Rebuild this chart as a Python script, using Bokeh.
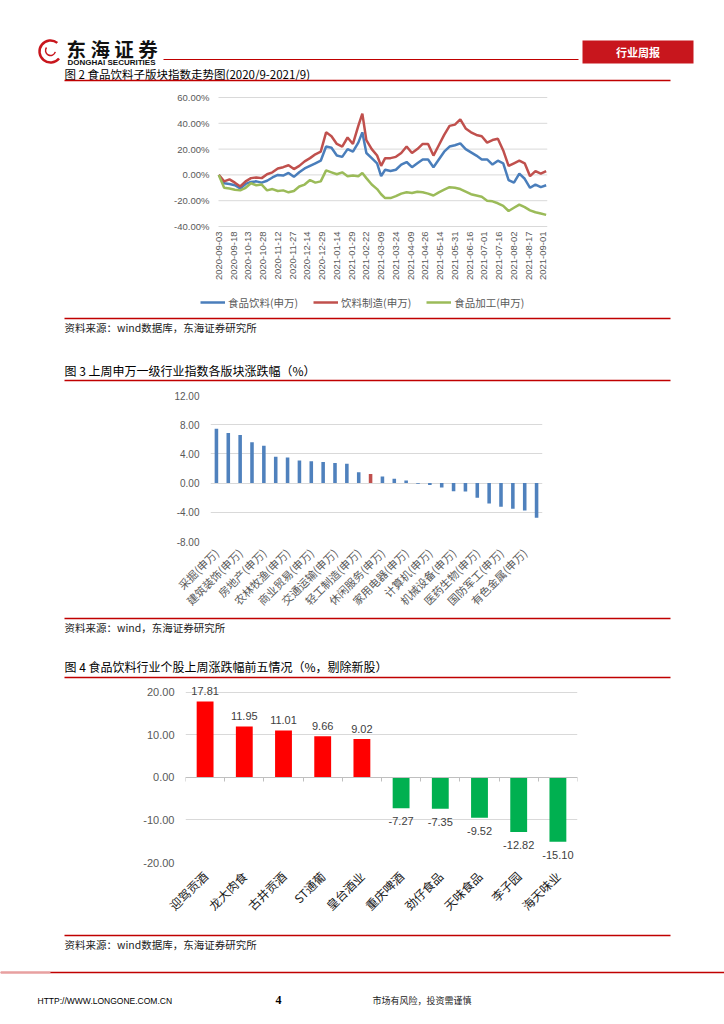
import math
from bokeh.plotting import figure
from bokeh.layouts import column
from bokeh.models import (Range1d, FixedTicker, Legend, LegendItem, LinearAxis,
                          ColumnDataSource, PrintfTickFormatter)
from bokeh.core.properties import value
from bokeh.embed import file_html
from bokeh.resources import INLINE

CJK = "Noto Sans CJK SC"
SANS = "Liberation Sans"
RED_LINE = "#c00000"
GRID = "#d9d9d9"
AXIS_TXT = "#595959"

# ---------------- Chart 1 data (trading-day index, % change) ----------------
trade_idx = [0, 4, 8, 12, 16, 20, 24, 28, 32, 36, 40, 44, 48, 52, 56, 60, 64, 68, 72, 76,
             80, 84, 88, 92, 96, 100, 104, 107, 110, 114, 118, 121, 124, 128, 132, 136,
             140, 144, 148, 152, 156, 160, 164, 168, 172, 176, 180, 184, 188, 192, 196,
             200, 204, 208, 212, 216, 220, 224, 228, 232, 236, 240, 244]
food_bev = [0, -6.5, -7, -8, -10.5, -7, -5.5, -5, -6, -4.5, -2, 0, -0.5, 1.5, -1.5, 2, 5, 7,
            9, 11, 22, 21, 15, 14, 20, 18, 25, 33, 17, 13, 9, -1, 4, 3, 4, 8, 10, 6, 9, 12,
            12, 6, 12, 18, 22, 23, 24.5, 20, 17.5, 15, 12, 12, 8, 11, 9, -4, -6, 1, -3, -10,
            -7.5, -9.5, -8]
beverage = [0, -5, -3.5, -6, -9, -5, -2.5, -2, -2.5, 0.5, 2, 5, 6, 7.5, 4.5, 7, 10.5, 13, 16,
            18, 33, 30, 24, 22, 29, 24, 38, 47.5, 27, 20, 15, 7, 13, 13, 14, 17, 22, 17, 20,
            24, 24, 15, 23, 31, 38, 39, 43, 36, 33, 31, 30, 25, 27, 28, 19, 7, 9, 11, 9, -1,
            3, 1, 3]
food_proc = [0, -10, -10.5, -11.5, -12, -10, -6.5, -8, -7.5, -12, -11, -12.5, -12, -13.5,
             -12.5, -9, -7.5, -4, -6, -5, 3.5, 2, 0.5, 2, -1, -0.5, -1, 1.5, -2.5, -7.5, -11,
             -15, -18, -18, -16.5, -14.5, -13.5, -14, -13, -13.5, -14.5, -16, -13.5, -11.5,
             -9.5, -10, -11, -13, -15, -16, -17, -20, -20.5, -22, -24, -28, -25.5, -23, -25,
             -27.5, -29, -30, -31]
date_tick_idx = [0, 11, 22, 33, 44, 55, 66, 77, 88, 99, 110, 121, 132, 143, 154, 165, 176,
                 187, 198, 209, 220, 231, 242]
date_labels = ["2020-09-03", "2020-09-18", "2020-10-13", "2020-10-28", "2020-11-12",
               "2020-11-27", "2020-12-14", "2020-12-29", "2021-01-14", "2021-01-29",
               "2021-02-22", "2021-03-09", "2021-03-24", "2021-04-09", "2021-04-26",
               "2021-05-14", "2021-05-31", "2021-06-16", "2021-07-01", "2021-07-16",
               "2021-08-02", "2021-08-17", "2021-09-01"]
series_names = ["食品饮料(申万)", "饮料制造(申万)", "食品加工(申万)"]
y1_ticks = [-40, -20, 0, 20, 40, 60]

# ---------------- Chart 2 data (28 SW industries, sorted) ----------------
industry_values = [7.45, 6.85, 6.6, 5.6, 5.1, 3.6, 3.5, 3.1, 3.0, 2.9, 2.75, 2.65, 1.5, 1.25,
                   0.9, 0.6, 0.37, -0.08, -0.25, -0.6, -1.1, -1.15, -2.0, -2.8, -3.25, -3.5,
                   -3.75, -4.75]
industry_labels = ["采掘(申万)", "建筑装饰(申万)", "房地产(申万)", "农林牧渔(申万)",
                   "商业贸易(申万)", "交通运输(申万)", "轻工制造(申万)", "休闲服务(申万)",
                   "家用电器(申万)", "计算机(申万)", "机械设备(申万)", "医药生物(申万)",
                   "国防军工(申万)", "有色金属(申万)"]
highlight_position = 14  # 食品饮料
y2_ticks = [-8, -4, 0, 4, 8, 12]

# ---------------- Chart 3 data ----------------
stock_names = ["迎驾贡酒", "龙大肉食", "古井贡酒", "ST通葡", "皇台酒业",
               "重庆啤酒", "劲仔食品", "天味食品", "李子园", "海天味业"]
stock_changes = [17.81, 11.95, 11.01, 9.66, 9.02, -7.27, -7.35, -9.52, -12.82, -15.10]
y3_ticks = [-20, -10, 0, 10, 20]

W = 724


def fig(**kw):
    f = figure(output_backend="svg", toolbar_location=None, **kw)
    f.frame_align = False
    f.outline_line_color = None
    return f


def deco(top, bottom):
    f = fig(width=W, height=bottom - top, x_range=Range1d(0, W),
            y_range=Range1d(bottom, top), x_axis_type=None, y_axis_type=None,
            min_border=0)
    f.grid.visible = False
    return f


def txt(f, x, y, s, size, color="#000000", font=CJK, align="left", style="normal"):
    f.text(x=[x], y=[y], text=[s], text_font=value(font), text_font_size=value(size),
           text_color=color, text_align=align, text_baseline="middle",
           text_font_style=style)


def hline(f, x0, x1, y, color=RED_LINE, width=1.5):
    f.segment(x0=[x0], y0=[y], x1=[x1], y1=[y], line_color=color, line_width=width)


# ---------------- Header ----------------
hdr = deco(0, 86)
hdr.arc(x=[50], y=[51], radius=11, start_angle=0.9, end_angle=5.6,
        line_color="#c8161d", line_width=2.5)
hdr.arc(x=[50], y=[50], radius=5, start_angle=2.5, end_angle=6.0,
        line_color="#c8161d", line_width=1.5)
txt(hdr, 66, 47.5, "东 海 证 券", "19.5px", "#111111", style="bold")
txt(hdr, 67, 62, "DONGHAI SECURITIES", "8px", "#111111", font=SANS, style="bold")
hline(hdr, 163, 578, 59, width=1)
hdr.quad(left=[582], right=[693], top=[40], bottom=[63], fill_color="#c8161d",
         line_color=None)
txt(hdr, 637.5, 51.5, "行业周报", "11px", "#ffffff", align="center", style="bold")
txt(hdr, 64, 73, "图 2  食品饮料子版块指数走势图(2020/9-2021/9)", "11.5px")
hline(hdr, 64, 670, 80)

# ---------------- Chart 1 ----------------
X1_LO, X1_HI = -0.2, 245
c1 = fig(width=W, height=226, x_range=Range1d(-39.7, X1_HI),
         y_range=Range1d(-106.7, 67.0),
         min_border_left=165, min_border_right=177, min_border_top=2,
         min_border_bottom=0)
c1.grid.visible = False
c1.segment(x0=[X1_LO] * len(y1_ticks), x1=[X1_HI] * len(y1_ticks), y0=y1_ticks,
           y1=y1_ticks, line_color=GRID, line_width=1)
c1.yaxis.ticker = FixedTicker(ticks=y1_ticks)
c1.yaxis.formatter = PrintfTickFormatter(format="%.2f%%")
c1.yaxis.fixed_location = X1_LO
c1.xaxis.ticker = FixedTicker(ticks=date_tick_idx)
c1.xaxis.major_label_overrides = {t: l for t, l in zip(date_tick_idx, date_labels)}
c1.xaxis.major_label_orientation = math.pi / 2
c1.xaxis.fixed_location = y1_ticks[0]
for ax in (c1.xaxis, c1.yaxis):
    ax.axis_line_color = None
    ax.major_tick_line_color = None
    ax.minor_tick_line_color = None
    ax.major_tick_out = 0
    ax.major_label_text_font = SANS
    ax.major_label_text_color = AXIS_TXT
c1.xaxis.major_label_text_font_size = "9.5px"
c1.yaxis.major_label_text_font_size = "9.5px"
c1.xaxis.major_label_standoff = 5
c1.yaxis.major_label_standoff = 9
r_blue = c1.line(trade_idx, food_bev, line_color="#4a7ebb", line_width=2.5)
r_red = c1.line(trade_idx, beverage, line_color="#c0504d", line_width=2.5)
r_green = c1.line(trade_idx, food_proc, line_color="#9bbb59", line_width=2.5)
leg = Legend(items=[LegendItem(label=series_names[0], renderers=[r_blue]),
                    LegendItem(label=series_names[1], renderers=[r_red]),
                    LegendItem(label=series_names[2], renderers=[r_green])],
             orientation="horizontal", location=(35, 2), glyph_width=25,
             glyph_height=16, label_height=16, label_standoff=3, spacing=15, padding=0,
             margin=0, border_line_color=None, background_fill_alpha=0,
             label_text_font=CJK, label_text_font_size="10.5px",
             label_text_color=AXIS_TXT)
c1.add_layout(leg)

# ---------------- Between chart 1 and 2 ----------------
d2 = deco(312, 388)
hline(d2, 64, 670, 318)
txt(d2, 64, 327, "资料来源：wind数据库，东海证券研究所", "10.5px", "#222222")
txt(d2, 64, 370, "图 3  上周申万一级行业指数各版块涨跌幅（%）", "12px")
hline(d2, 64, 670, 380)

# ---------------- Chart 2 ----------------
positions = list(range(1, len(industry_values) + 1))
bar_colors = ["#c0504d" if p == highlight_position else "#4f81bd" for p in positions]
c2 = fig(width=W, height=228, x_range=Range1d(0.5, 28.5), y_range=Range1d(-8, 12),
         min_border_left=210, min_border_right=182, min_border_top=7,
         min_border_bottom=75)
c2.xgrid.visible = False
c2.ygrid.grid_line_color = GRID
c2.ygrid.ticker = FixedTicker(ticks=y2_ticks)
c2.vbar(x=positions, top=industry_values, width=0.3, fill_color=bar_colors,
        line_color=None)
label_ticks = positions[0::2]
c2.xaxis.ticker = FixedTicker(ticks=label_ticks)
c2.xaxis.major_label_overrides = {t: l for t, l in zip(label_ticks, industry_labels)}
c2.xaxis.major_label_orientation = math.pi / 4
c2.xaxis.major_label_text_font = CJK
c2.xaxis.major_label_text_font_size = "11px"
c2.xaxis.major_label_standoff = 9
c2.yaxis.ticker = FixedTicker(ticks=y2_ticks)
c2.yaxis.formatter = PrintfTickFormatter(format="%.2f")
c2.yaxis.major_label_text_font = SANS
c2.yaxis.major_label_text_font_size = "10px"
c2.yaxis.major_label_standoff = 11
for ax in (c2.xaxis, c2.yaxis):
    ax.axis_line_color = None
    ax.major_tick_line_color = None
    ax.minor_tick_line_color = None
    ax.major_tick_out = 0
    ax.major_label_text_color = AXIS_TXT

# ---------------- Between chart 2 and 3 ----------------
d3 = deco(616, 679)
hline(d3, 64, 670, 618)
txt(d3, 64, 627, "资料来源：wind，东海证券研究所", "10.5px", "#222222")
txt(d3, 64, 666, "图 4  食品饮料行业个股上周涨跌幅前五情况（%，剔除新股）", "12px")
hline(d3, 64, 670, 677)

# ---------------- Chart 3 ----------------
stock_pos = list(range(1, len(stock_names) + 1))
stock_colors = ["#ff0000" if v >= 0 else "#00b050" for v in stock_changes]
c3 = fig(width=W, height=253, x_range=Range1d(0.5, 10.5), y_range=Range1d(-20, 22.5),
         min_border_left=185, min_border_right=147, min_border_top=2,
         min_border_bottom=70)
c3.xgrid.visible = False
c3.ygrid.grid_line_color = GRID
c3.ygrid.ticker = FixedTicker(ticks=y3_ticks)
c3.vbar(x=stock_pos, top=stock_changes, width=0.43, fill_color=stock_colors,
        line_color=None)
pos_src = ColumnDataSource(dict(
    x=[p for p, v in zip(stock_pos, stock_changes) if v >= 0],
    y=[v for v in stock_changes if v >= 0],
    t=["%.2f" % v for v in stock_changes if v >= 0]))
neg_src = ColumnDataSource(dict(
    x=[p for p, v in zip(stock_pos, stock_changes) if v < 0],
    y=[v for v in stock_changes if v < 0],
    t=["%.2f" % v for v in stock_changes if v < 0]))
c3.text(x="x", y="y", text="t", source=pos_src, text_font=value(SANS),
        text_font_size=value("11px"), text_color="#404040", text_align="center",
        text_baseline="bottom", y_offset=-6)
c3.text(x="x", y="y", text="t", source=neg_src, text_font=value(SANS),
        text_font_size=value("11px"), text_color="#404040", text_align="center",
        text_baseline="top", y_offset=9)
c3.xaxis.ticker = FixedTicker(ticks=stock_pos)
c3.xaxis.major_label_overrides = {t: n for t, n in zip(stock_pos, stock_names)}
c3.xaxis.major_label_orientation = math.pi / 4
c3.xaxis.major_label_text_font = CJK
c3.xaxis.major_label_text_font_size = "12px"
c3.xaxis.major_label_text_color = "#1a1a1a"
c3.xaxis.major_label_standoff = 11
c3.yaxis.ticker = FixedTicker(ticks=y3_ticks)
c3.yaxis.formatter = PrintfTickFormatter(format="%.2f")
c3.yaxis.major_label_text_font = SANS
c3.yaxis.major_label_text_font_size = "11px"
c3.yaxis.major_label_text_color = AXIS_TXT
c3.yaxis.major_label_standoff = 11
for ax in (c3.xaxis, c3.yaxis):
    ax.axis_line_color = None
    ax.major_tick_line_color = None
    ax.minor_tick_line_color = None
    ax.major_tick_out = 0
bounds = [p - 0.5 for p in stock_pos] + [stock_pos[-1] + 0.5]
zero_axis = LinearAxis(fixed_location=0, ticker=FixedTicker(ticks=bounds),
                       major_label_overrides={b: "" for b in bounds},
                       axis_line_color="#bfbfbf", major_tick_line_color="#bfbfbf",
                       major_tick_out=4, major_tick_in=0, minor_tick_line_color=None)
c3.add_layout(zero_axis, "below")

# ---------------- Footer ----------------
d4 = deco(932, 1024)
hline(d4, 64, 670, 935)
txt(d4, 64, 944, "资料来源：wind数据库，东海证券研究所", "10.5px", "#222222")
hline(d4, 0, W, 972, color="#c00000", width=1.5)
hline(d4, 0, 50, 972, color="#e8a0a0", width=1.5)
txt(d4, 37, 1000, "HTTP://WWW.LONGONE.COM.CN", "8.5px", "#000000", font=SANS)
txt(d4, 275, 999, "4", "12px", "#000000", font="Liberation Serif", style="bold")
txt(d4, 372, 1000, "市场有风险，投资需谨慎", "9px", "#222222")

page = column(hdr, c1, d2, c2, d3, c3, d4, spacing=0)
open("out.html", "w").write(file_html(page, INLINE))
